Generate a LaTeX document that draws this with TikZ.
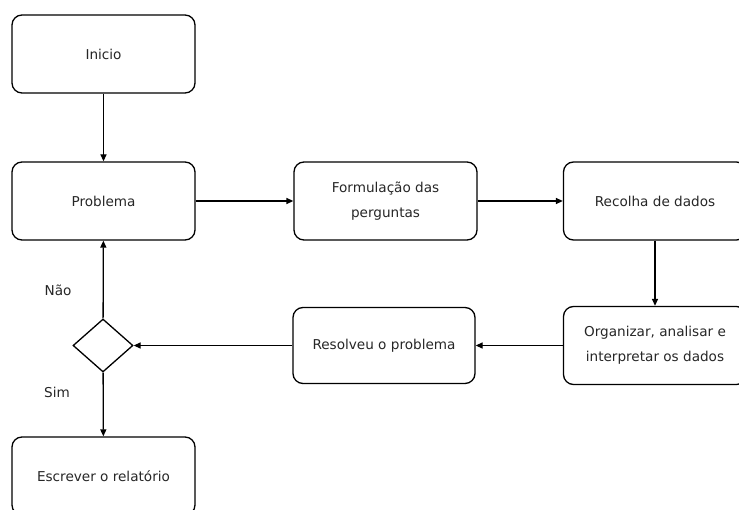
\documentclass[tikz,border=0pt]{standalone}
\usepackage{fontspec}
\setmainfont{DejaVu Sans}
\usetikzlibrary{shapes.geometric,arrows.meta}
\begin{document}
\begin{tikzpicture}[x=1pt,y=-1pt,
  font=\fontsize{13.6}{25}\selectfont,
  box/.style={draw, line width=1.3pt, rounded corners=10pt, minimum width=183pt,
    minimum height=78pt, inner sep=0pt, align=center, text=black!85},
  decision/.style={draw, diamond, line width=1.3pt, minimum width=60pt,
    minimum height=53pt, inner sep=0pt, shape aspect=1.13},
  flow/.style={draw, line width=1.3pt, -{Triangle[length=7pt,width=6pt]}},
  lbl/.style={text=black!85}]
\useasboundingbox (0,0) rectangle (739,510);

\node[box] (inicio) at (103.5,54) {Inicio};
\node[box] (problema) at (103.5,201) {Problema};
\node[box] (formul) at (385.5,201) {Formulação das\\perguntas};
\node[box] (recolha) at (655,201) {Recolha de dados};
\node[box] (organizar) at (655,345.5) {Organizar, analisar e\\interpretar os dados};
\node[box, minimum width=182pt, minimum height=76pt] (resolveu) at (384,345.5) {Resolveu o problema};
\node[decision] (decisao) at (103,345.5) {};
\node[box] (escrever) at (103.5,476) {Escrever o relatório};

\node[lbl] (nao) at (58,290) {Não};
\node[lbl] (sim) at (57,392) {Sim};

\draw[flow] (inicio) -- (problema);
\draw[flow] (problema) -- (formul);
\draw[flow] (formul) -- (recolha);
\draw[flow] (recolha.south) -- (organizar.north);
\draw[flow] (organizar) -- (resolveu);
\draw[flow] (resolveu) -- (decisao);
\draw[flow] (decisao) -- (problema);
\draw[flow] (decisao) -- (escrever);
\end{tikzpicture}
\end{document}
